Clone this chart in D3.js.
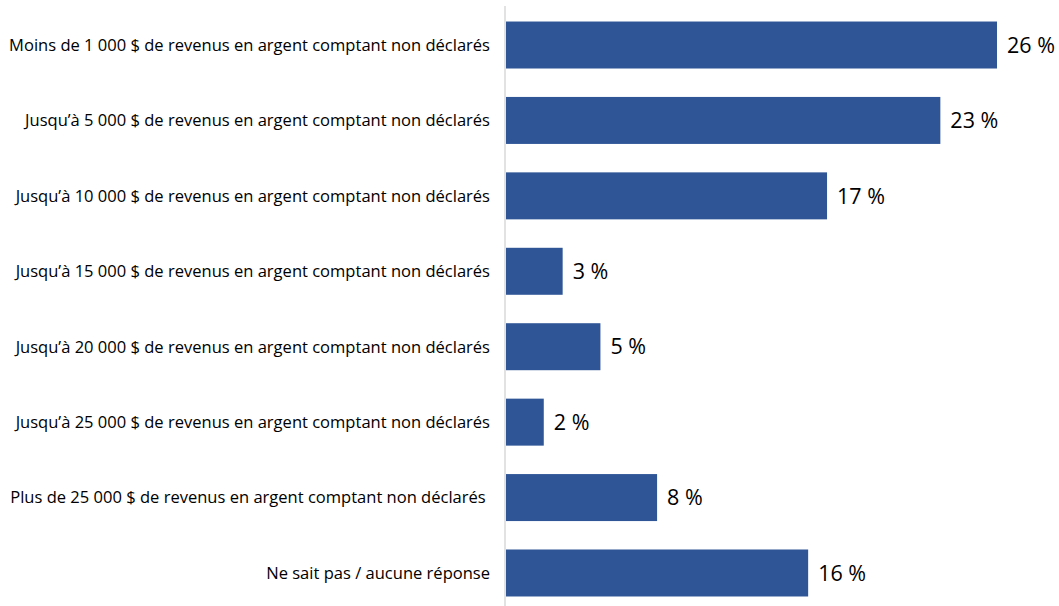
<!DOCTYPE html>
<html>
<head>
<meta charset="utf-8">
<script src="https://cdn.jsdelivr.net/npm/d3@7"></script>
<style>
  body { margin: 0; background: #fff; }
  svg { display: block; font-family: "Open Sans", "Noto Sans", sans-serif; }
</style>
</head>
<body>
<div id="chart"></div>
<script>
const categories = [
  "Moins de 1 000 $ de revenus en argent comptant non déclarés",
  "Jusqu’à 5 000 $ de revenus en argent comptant non déclarés",
  "Jusqu’à 10 000 $ de revenus en argent comptant non déclarés",
  "Jusqu’à 15 000 $ de revenus en argent comptant non déclarés",
  "Jusqu’à 20 000 $ de revenus en argent comptant non déclarés",
  "Jusqu’à 25 000 $ de revenus en argent comptant non déclarés",
  "Plus de 25 000 $ de revenus en argent comptant non déclarés ",
  "Ne sait pas / aucune réponse"
];
const values = [26, 23, 17, 3, 5, 2, 8, 16];
const valueLabels = ["26 %", "23 %", "17 %", "3 %", "5 %", "2 %", "8 %", "16 %"];

const width = 1059, height = 606;
const x0 = 506;

const svg = d3.select('#chart').append('svg')
  .attr('width', width)
  .attr('height', height);

const xScale = d3.scaleLinear().domain([0, 26]).range([x0, 997]);
const yScale = d3.scaleBand()
  .domain(categories)
  .range([7.3, 610.7])
  .paddingInner(0.377)
  .paddingOuter(0.1885);

// bars
svg.selectAll('.bar')
  .data(values)
  .enter()
  .append('rect')
  .attr('class', 'bar')
  .attr('x', xScale(0))
  .attr('y', (d, i) => yScale(categories[i]))
  .attr('width', d => xScale(d) - xScale(0))
  .attr('height', yScale.bandwidth())
  .attr('fill', '#2f5597');

// axis line
svg.append('line')
  .attr('x1', x0 - 1).attr('x2', x0 - 1)
  .attr('y1', 6).attr('y2', height)
  .attr('stroke', '#d9d9d9')
  .attr('stroke-width', 1.5);

// category labels
const labels = svg.append('g')
  .attr('class', 'y axis')
  .selectAll('text')
  .data(categories)
  .enter()
  .append('text')
  .attr('x', 490)
  .attr('y', d => yScale(d) + yScale.bandwidth() / 2)
  .attr('dy', '0.35em')
  .attr('text-anchor', 'end')
  .style('white-space', 'pre')
  .style('font-size', '15px')
  .attr('fill', '#000')
  .text(d => d);

// fit label size to the reference width of the longest label
const w0 = labels.nodes()[0].getComputedTextLength();
const fs = 15 * 481 / w0;
labels.style('font-size', fs.toFixed(2) + 'px');

// value labels
svg.selectAll('.val')
  .data(values)
  .enter()
  .append('text')
  .attr('class', 'val')
  .attr('x', d => xScale(d) + 10)
  .attr('y', (d, i) => yScale(categories[i]) + yScale.bandwidth() / 2)
  .attr('dy', '0.36em')
  .style('font-size', '21.5px')
  .attr('fill', '#000')
  .text((d, i) => valueLabels[i]);
</script>
</body>
</html>
